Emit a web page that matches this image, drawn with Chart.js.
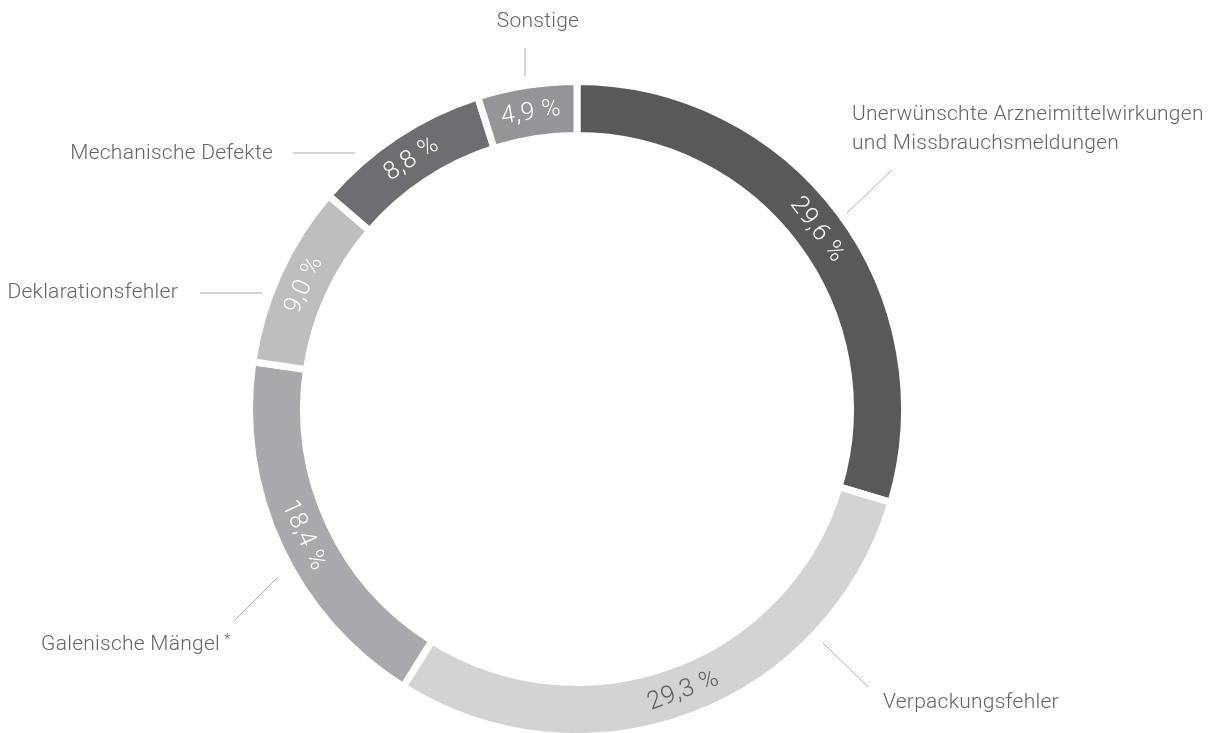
<!DOCTYPE html>
<html lang="de">
<head>
<meta charset="utf-8">
<title>Meldungen nach Kategorie</title>
<script src="https://cdn.jsdelivr.net/npm/chart.js@4.4.1/dist/chart.umd.min.js"></script>
<style>
  html, body { margin: 0; padding: 0; background: #fff; }
  #wrap { width: 1221px; height: 733px; }
</style>
</head>
<body>
<div id="wrap"><canvas id="chart" width="1221" height="733"></canvas></div>
<script>
// data
const categories = [
  "Unerwünschte Arzneimittelwirkungen\nund Missbrauchsmeldungen",
  "Verpackungsfehler",
  "Galenische Mängel",
  "Deklarationsfehler",
  "Mechanische Defekte",
  "Sonstige"
];
const shares = [29.6, 29.3, 18.4, 9.0, 8.8, 4.9];
const footnoteMarks = ["", "", "*", "", "", ""];

// styles
const segmentColors = ["#58595b", "#d1d3d4", "#a7a9ac", "#bcbec0", "#6d6e71", "#939598"];
const valueTextColors = ["#ffffff", "#5d5e60", "#ffffff", "#ffffff", "#ffffff", "#ffffff"];
const FONT = "Roboto, 'Open Sans', 'Liberation Sans', sans-serif";

// outer label placement (text anchor + leader line), same order as categories
const labelLayout = [
  { x: 852, y: 120, align: "left", line: [892, 170, 847, 213] },
  { x: 883, y: 708, align: "left", line: [823, 643, 868, 687] },
  { x: 220, y: 650, align: "right", line: [235, 620, 278, 577] },
  { x: 178, y: 298, align: "right", line: [200, 293, 262, 293] },
  { x: 273, y: 159, align: "right", line: [293, 153, 355, 153] },
  { x: 538, y: 27, align: "center", line: [525, 48, 525, 76] }
];

const fmt = (v) => v.toFixed(1).replace(".", ",") + " %";

const ringLabels = {
  id: "ringLabels",
  afterDatasetsDraw(chart) {
    const ctx = chart.ctx;
    const arcs = chart.getDatasetMeta(0).data;
    ctx.save();

    // values written along the ring
    ctx.font = "300 25px " + FONT;
    ctx.letterSpacing = "0.6px";
    ctx.textAlign = "center";
    ctx.textBaseline = "middle";
    arcs.forEach((arc, i) => {
      const p = arc.getProps(["x", "y", "startAngle", "endAngle", "innerRadius", "outerRadius"], true);
      const mid = (p.startAngle + p.endAngle) / 2;
      const r = (p.innerRadius + p.outerRadius) / 2;
      let rot = mid + Math.PI / 2;
      const norm = ((rot % (2 * Math.PI)) + 2 * Math.PI) % (2 * Math.PI);
      if (norm > Math.PI / 2 && norm < Math.PI * 1.5) rot -= Math.PI; // keep text upright
      ctx.save();
      ctx.translate(p.x + Math.cos(mid) * r, p.y + Math.sin(mid) * r);
      ctx.rotate(rot);
      ctx.fillStyle = valueTextColors[i];
      ctx.fillText(fmt(shares[i]), 0, 1);
      ctx.restore();
    });

    // category names with leader lines
    ctx.strokeStyle = "#a9abae";
    ctx.lineWidth = 1;
    ctx.fillStyle = "#636466";
    ctx.textBaseline = "alphabetic";
    categories.forEach((name, i) => {
      const lay = labelLayout[i];
      const l = lay.line;
      ctx.beginPath();
      ctx.moveTo(l[0], l[1]);
      ctx.lineTo(l[2], l[3]);
      ctx.stroke();

      ctx.font = "300 21px " + FONT;
      ctx.letterSpacing = "0.25px";
      ctx.textAlign = lay.align;
      const lines = name.split("\n");
      lines.forEach((t, k) => ctx.fillText(t, lay.x, lay.y + k * 29));
      if (footnoteMarks[i]) {
        const w = ctx.measureText(lines[lines.length - 1]).width;
        const startX = lay.align === "right" ? lay.x : lay.x + w;
        ctx.font = "300 15px " + FONT;
        ctx.textAlign = "left";
        ctx.fillText(footnoteMarks[i], startX + 4, lay.y - 6);
      }
    });
    ctx.restore();
  }
};

new Chart(document.getElementById("chart"), {
  type: "doughnut",
  data: {
    labels: categories,
    datasets: [{
      data: shares,
      backgroundColor: segmentColors,
      borderColor: "#ffffff",
      borderWidth: 7,
      hoverOffset: 0,
      clip: false
    }]
  },
  options: {
    responsive: false,
    animation: false,
    radius: 327.5,
    cutout: "83.5%",
    layout: { padding: { left: 0, right: 67, top: 85, bottom: 0 } },
    plugins: {
      legend: { display: false },
      tooltip: { enabled: false }
    }
  },
  plugins: [ringLabels]
});
</script>
</body>
</html>
